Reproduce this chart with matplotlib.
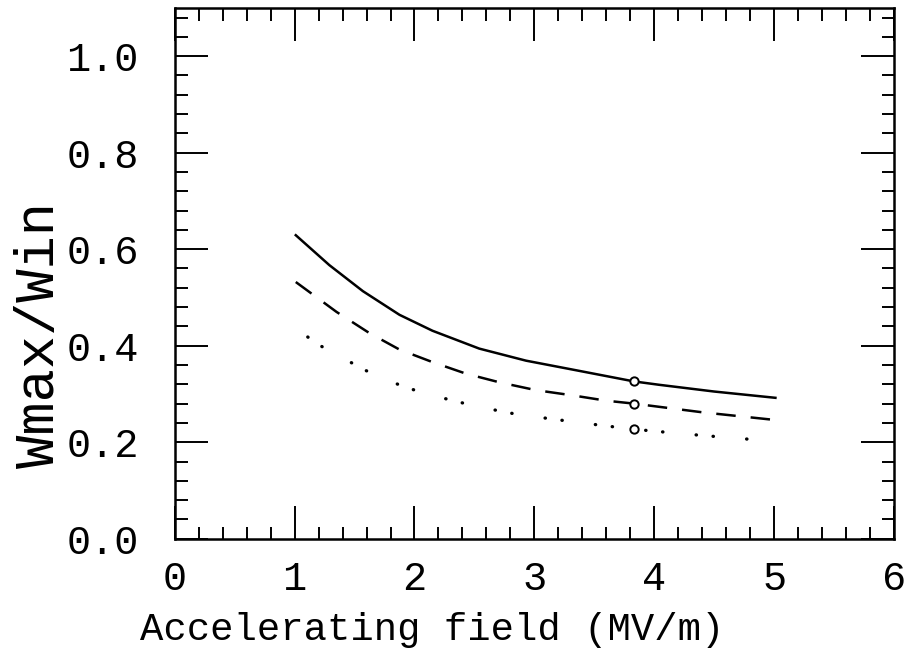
import matplotlib
matplotlib.use('Agg')
import matplotlib.pyplot as plt
import numpy as np
from matplotlib.ticker import MultipleLocator, FormatStrFormatter

# curves
x_solid = [1.01, 1.29, 1.57, 1.875, 2.15, 2.54, 2.93, 3.35, 3.83, 4.04, 4.5, 5.01]
y_solid = [0.629, 0.567, 0.513, 0.464, 0.431, 0.394, 0.369, 0.349, 0.326, 0.319, 0.305, 0.292]

x_dash = [1.01, 1.35, 1.625, 1.875, 2.15, 2.43, 2.71, 3.01, 3.32, 3.60, 3.83, 4.4, 5.01]
y_dash = [0.532, 0.470, 0.426, 0.392, 0.366, 0.342, 0.324, 0.308, 0.297, 0.286, 0.280, 0.262, 0.246]

x_dot = [1.11, 1.20, 1.59, 1.89, 2.10, 2.52, 2.85, 3.18, 3.62, 3.95, 4.4, 4.85]
y_dot = [0.418, 0.402, 0.349, 0.317, 0.300, 0.274, 0.258, 0.247, 0.233, 0.224, 0.214, 0.205]

x_mark = [3.83, 3.83, 3.83]
y_mark = [0.326, 0.279, 0.228]

xlabel = 'Accelerating field (MV/m)'
ylabel = 'Wmax/Win'


def main():
    plt.rcParams['font.family'] = ['Liberation Mono', 'DejaVu Sans Mono']
    fig = plt.figure(figsize=(9.05, 6.61), dpi=100)
    ax = fig.add_axes([0.193, 0.185, 0.795, 0.803])

    ax.plot(x_solid, y_solid, color='black', lw=1.8)
    dl, = ax.plot(x_dash, y_dash, color='black', lw=1.8)
    dl.set_dashes((7.8, 6.0))
    dt, = ax.plot(x_dot, y_dot, color='black', lw=2.4, dash_capstyle='round')
    dt.set_dashes((0.1, 5.0, 0.1, 10.0))
    ax.plot(x_mark, y_mark, 'o', mfc='white', mec='black', ms=6, mew=1.4)

    ax.set_xlim(0, 6)
    ax.set_ylim(0, 1.1)
    ax.xaxis.set_major_locator(MultipleLocator(1))
    ax.xaxis.set_minor_locator(MultipleLocator(0.2))
    ax.yaxis.set_major_locator(MultipleLocator(0.2))
    ax.yaxis.set_minor_locator(MultipleLocator(0.04))
    ax.yaxis.set_major_formatter(FormatStrFormatter('%.1f'))
    ax.tick_params(which='both', direction='in', top=True, right=True, width=1.4, colors='black')
    ax.tick_params(which='major', length=24, labelsize=29, pad=15)
    ax.tick_params(axis='y', which='major', pad=26)
    ax.tick_params(which='minor', length=9)
    for s in ax.spines.values():
        s.set_linewidth(1.8)

    # axis titles placed where the reference has them
    fig.text(432 / 905, 1 - 630 / 661, xlabel, fontsize=28, ha='center', va='center')
    fig.text(40 / 905, 1 - 335 / 661, ylabel, fontsize=40, ha='center', va='center',
             rotation=90)

    fig.savefig('out.png', dpi=100)


if __name__ == '__main__':
    main()
